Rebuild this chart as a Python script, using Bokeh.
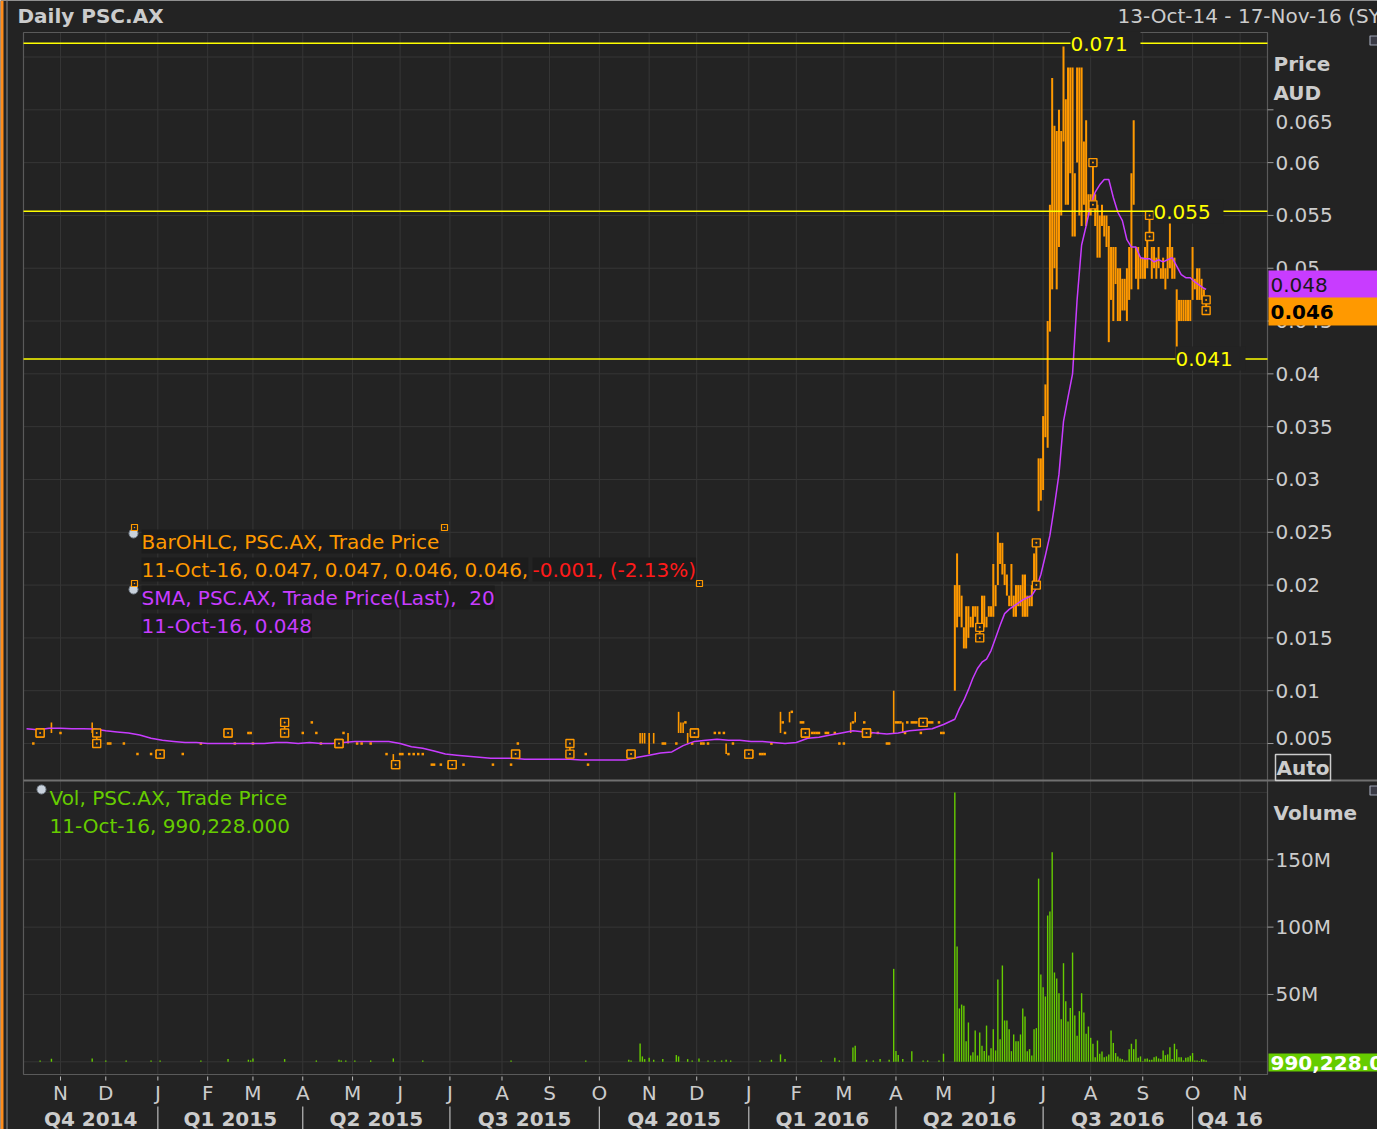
import numpy as np
from bokeh.plotting import figure
from bokeh.models import Range1d, Label
from bokeh.core.properties import value
from bokeh.embed import file_html
from bokeh.resources import INLINE

# ---------------------------------------------------------------- data
START = "2014-10-13"
END = "2016-11-17"

month_starts = ["2014-11", "2014-12", "2015-01", "2015-02", "2015-03", "2015-04", "2015-05",
                "2015-06", "2015-07", "2015-08", "2015-09", "2015-10", "2015-11", "2015-12",
                "2016-01", "2016-02", "2016-03", "2016-04", "2016-05", "2016-06", "2016-07",
                "2016-08", "2016-09", "2016-10", "2016-11"]
month_labels = ["N", "D", "J", "F", "M", "A", "M", "J", "J", "A", "S", "O", "N", "D",
                "J", "F", "M", "A", "M", "J", "J", "A", "S", "O", "N"]
quarter_starts = ["2015-01", "2015-04", "2015-07", "2015-10", "2016-01", "2016-04", "2016-07", "2016-10"]
quarter_labels = ["Q4 2014", "Q1 2015", "Q2 2015", "Q3 2015", "Q4 2015", "Q1 2016", "Q2 2016",
                  "Q3 2016", "Q4 16"]

price_ticks = [0.005, 0.01, 0.015, 0.02, 0.025, 0.03, 0.035, 0.04, 0.045, 0.05, 0.055, 0.06, 0.065]
price_tick_labels = ["0.005", "0.01", "0.015", "0.02", "0.025", "0.03", "0.035", "0.04", "0.045",
                     "0.05", "0.055", "0.06", "0.065"]
price_grid = price_ticks + [0.07]
vol_ticks = [50e6, 100e6, 150e6]
vol_tick_labels = ["50M", "100M", "150M"]
vol_grid = [0, 50e6, 100e6, 150e6, 200e6]

# quiet period (session number since 13-Oct-14, high, low)
early_bar = [3, 6, 11, 15, 29, 31, 36, 37, 43, 49, 55, 59, 69, 77, 89, 92, 98, 99, 100, 114, 122, 126,
             128, 130, 138, 140, 142, 146, 148, 152, 159, 162, 163, 165, 166, 169, 171, 173, 175, 179,
             180, 183, 188, 193, 206, 214, 216, 217, 240, 247, 248, 267, 271, 272, 273, 275, 277, 281,
             282, 287, 288, 289, 290, 291, 292, 294, 295, 298, 299, 301, 304, 306, 308, 309, 310, 312,
             319, 324, 325, 326, 329, 333, 334, 335, 337, 338, 342, 343, 344, 347, 348, 349, 350, 353,
             354, 357, 359, 361, 364, 365, 366, 370, 371, 373, 376, 380, 381, 383, 384, 385, 386, 387,
             388, 389, 391, 392, 393, 395, 396, 398, 399, 400, 403, 404, 405]
early_high = [.005, .006, .007, .006, .007, .006, .005, .005, .005, .004, .004, .004, .004, .005, .006,
              .005, .006, .006, .005, .007, .006, .007, .006, .005, .005, .006, .006, .005, .005, .005,
              .004, .004, .003, .004, .004, .004, .004, .004, .004, .003, .003, .003, .003, .003, .003,
              .003, .004, .005, .005, .004, .003, .004, .006, .006, .006, .006, .006, .005, .005, .005,
              .008, .007, .007, .007, .006, .005, .006, .005, .005, .005, .006, .006, .006, .005, .004,
              .005, .004, .004, .004, .004, .005, .008, .007, .006, .008, .008, .007, .007, .006, .006,
              .006, .006, .006, .006, .006, .006, .005, .005, .007, .007, .008, .007, .006, .006, .006,
              .005, .005, .010, .007, .007, .007, .007, .006, .007, .007, .007, .007, .006, .007, .007,
              .007, .007, .007, .006, .006]
early_low = [.005, .006, .006, .006, .006, .005, .005, .005, .005, .004, .004, .004, .004, .005, .006,
             .005, .006, .006, .005, .006, .006, .007, .006, .005, .005, .006, .005, .005, .005, .005,
             .004, .003, .003, .004, .004, .004, .004, .004, .004, .003, .003, .003, .003, .003, .003,
             .003, .004, .005, .004, .004, .003, .004, .005, .005, .005, .004, .005, .005, .005, .005,
             .006, .006, .006, .007, .005, .005, .006, .005, .005, .005, .006, .006, .006, .004, .004,
             .005, .004, .004, .004, .004, .005, .006, .007, .006, .007, .008, .007, .007, .006, .006,
             .006, .006, .006, .006, .006, .006, .005, .005, .006, .007, .007, .007, .006, .006, .006,
             .005, .005, .006, .007, .007, .007, .006, .006, .007, .007, .007, .007, .006, .007, .007,
             .007, .007, .007, .006, .006]

# active period: consecutive sessions from 9-May-16 to 11-Oct-16
active_first = "2016-05-09"
active_high = [.020, .023, .020, .019, .016, .018, .018, .017, .018, .018, .018, .016, .019, .019, .017,
               .018, .018, .022, .020, .025, .024, .024, .022, .021, .019, .022, .019, .020, .020, .020,
               .021, .021, .019, .019, .020, .023, .024, .032, .032, .036, .039, .045, .056, .068, .0635,
               .063, .065, .063, .071, .066, .069, .069, .069, .059, .069, .069, .069, .062, .064, .057,
               .057, .060, .057, .056, .055, .056, .055, .055, .054, .052, .052, .052, .050, .050, .049,
               .049, .050, .052, .059, .064, .052, .052, .051, .051, .052, .053, .055, .052, .052, .051,
               .052, .050, .051, .050, .052, .055, .052, .051, .048, .047, .047, .047, .047, .047, .047,
               .052, .049, .050, .050, .049, .048, .047]
active_low = [.010, .016, .017, .016, .014, .014, .015, .016, .016, .017, .016, .015, .016, .016, .016,
              .017, .017, .017, .018, .020, .022, .021, .020, .019, .018, .018, .017, .017, .018, .018,
              .017, .017, .017, .018, .018, .020, .020, .027, .028, .029, .034, .033, .044, .048, .050,
              .048, .052, .055, .062, .056, .056, .059, .053, .053, .060, .055, .054, .056, .054, .055,
              .055, .056, .054, .051, .051, .054, .053, .052, .043, .047, .045, .0485, .045, .045, .046,
              .046, .045, .047, .048, .056, .049, .048, .049, .049, .049, .050, .053, .049, .050, .049,
              .050, .049, .049, .048, .049, .050, .049, .049, .0415, .045, .045, .045, .045, .045, .045,
              .047, .048, .047, .047, .047, .047, .046]

# selected-series handles (open / close)
handle_bar = [6, 31, 59, 89, 114, 138, 163, 188, 216, 240, 267, 295, 319, 344, 371, 396, 421, 446, 471, 496, 521]
handle_open = [.006, .006, .004, .006, .007, .005, .003, .003, .004, .005, .004, .006, .004, .006, .006,
               .007, .016, .024, .060, .055, .047]
handle_close = [.006, .005, .004, .006, .006, .005, .003, .003, .004, .004, .004, .006, .004, .006, .006,
                .007, .015, .020, .056, .053, .046]

# 20-period SMA (every 5 sessions, then every 2 in the active period)
sma_early = [.0064, .0063, .00645, .00645, .0064, .0064, .00637, .0062, .0061, .0060,
             .0058, .0055, .0053, .0052, .0051, .0051, .0050, .0050, .0050, .0050,
             .0050, .0050, .0051, .0051, .0050, .0051, .0050, .0050, .0051, .0052,
             .0052, .0052, .0052, .0050, .0047, .00455, .0043, .0040, .0039, .0038,
             .0037, .0036, .0036, .0036, .0035, .0035, .0035, .0035, .0035, .00345,
             .00345, .00345, .00345, .00345, .0037, .0039, .0041, .0042, .0048, .0052,
             .0053, .0054, .0053, .0053, .0052, .0052, .0051, .0050, .0051, .0055,
             .0056, .0058, .0060, .0062, .0061, .0060, .0059, .0060, .0062, .0063,
             .0064, .0068]
sma_late = [.0073, .0083, .0091, .0101, .0112, .0121, .0127, .0130, .0138, .0150, .0162, .0173, .0177,
            .0180, .0183, .0186, .0188, .0190, .0197, .0210, .0228, .0247, .0275, .0305, .0355, .0378,
            .0400, .0470, .0522, .0540, .0560, .0572, .0579, .0584, .0584, .0567, .0553, .0545, .0527,
            .0520, .0520, .0510, .0509, .0509, .0506, .0508, .0506, .0508, .0510, .0502, .0494, .0491,
            .0491, .0487, .0484, .0481]
sma_last = .0480

# volume (millions of shares)
early_vol_bar = [6, 11, 29, 35, 44, 55, 59, 77, 89, 98, 99, 100, 114, 128, 138, 139, 141, 145, 152, 162,
                 175, 214, 247, 266, 267, 271, 272, 273, 275, 277, 281, 287, 288, 292, 294, 297, 301, 304,
                 307, 309, 311, 324, 329, 333, 335, 351, 357, 359, 365, 366, 371, 374, 377, 381, 383, 384,
                 385, 387, 391, 396, 398, 403, 405]
early_vol = [1.0, 2.2, 2.5, 1.0, 1.0, 1.0, 1.0, 1.0, 2.0, 1.5, 1.0, 2.5, 2.0, 1.0, 1.5, 1.0, 1.0, 1.0,
             1.0, 2.5, 1.0, 1.0, 1.0, 1.5, 1.0, 13.6, 4.0, 2.0, 3.0, 1.5, 2.0, 5.0, 4.0, 2.0, 1.0, 2.5,
             1.0, 1.0, 1.0, 1.5, 1.0, 1.0, 1.5, 5.5, 2.0, 1.0, 3.0, 1.0, 10.6, 12.0, 1.5, 1.0, 2.0, 1.5,
             69.0, 8.0, 5.0, 2.0, 7.9, 1.0, 1.0, 1.0, 6.0]
active_vol = [200, 85.6, 39.6, 42.5, 41.6, 15.3, 29.2, 4.7, 7.1, 23.2, 4.7, 21.8, 12, 8, 26.9, 4.7, 10,
              24.2, 8.4, 61.1, 16.8, 71.5, 30.7, 30.7, 24.2, 7.9, 20.3, 15.3, 15.3, 20.3, 39.6, 33.6, 7.9,
              9.4, 4.7, 24.2, 25, 136, 64.8, 55.4, 48.5, 108.6, 111.6, 155.6, 66.3, 61.8, 50.9, 31.6, 73.2,
              45, 30, 40, 81.1, 34.4, 19.3, 37.6, 50.9, 36.6, 20.8, 26.2, 17.8, 13.4, 3.4, 15.8, 5.9, 7.7,
              3.4, 4.0, 5.5, 23.2, 14, 6.5, 4.0, 2.5, 2.0, 1.0, 1.0, 9.4, 13.4, 9.4, 16.8, 3.0, 4.0, 0.5,
              2.3, 2.5, 1.5, 1.5, 3.4, 4.0, 2.5, 2.0, 8.4, 4.9, 5.5, 10.8, 2.0, 13.4, 9.4, 3.4, 3.4, 1.0,
              3.0, 3.4, 4.5, 6.5, 1.0, 1.0, 0.5, 2.0, 1.5, 0.990228]

levels = [0.0713, 0.0554, 0.0414]
last_ohlc = [0.047, 0.047, 0.046, 0.046]
last_change = -0.001
last_pct = -2.13
last_date = "11-Oct-16"
last_volume = 990228

# ---------------------------------------------------------------- scales
def bday(d):
    return int(np.busday_count(np.datetime64(START), np.datetime64(d)))

def first_bday(month):
    d = np.busday_offset(np.datetime64(month + "-01"), 0, roll="forward")
    return int(np.busday_count(np.datetime64(START), d))

m_ticks = [first_bday(m) for m in month_starts]
q_bounds = [first_bday(m) for m in quarter_starts]

x0 = bday(START) - 1.34
x1 = bday(END) + 0.1

# chart-area geometry in canvas pixels
W, H = 1377, 1129
FL, FR, FT, FB, SEP = 23, 1267, 32, 1074, 780
P_REF_Y, P_REF_V, P_SCALE = 109.3, 0.065, 10562.0
V0_Y, V_SCALE = 1061.3, 1.347e-6

def yp(ry):
    return P_REF_V - (ry - P_REF_Y) / P_SCALE

def vol_at(ry):
    return (V0_Y - ry) / V_SCALE

def xv(rx):
    return x0 + (rx - FL) * (x1 - x0) / (FR - FL)

BG = "#232323"
GRID = "#363636"
OUTLINE = "#5a5a5a"
TXT = "#cccccc"
ORANGE = "#ff9900"
PURPLE = "#c83cff"
GREEN = "#66cc00"
YELLOW = "#ffff00"
FONT = "DejaVu Sans"

p = figure(width=W, height=H, x_range=Range1d(xv(0), xv(W)), y_range=Range1d(yp(H), yp(0)),
           x_axis_type=None, y_axis_type=None, title=None, toolbar_location=None,
           output_backend="svg", min_border=0, background_fill_color=BG, border_fill_color=BG,
           outline_line_color=None)
p.extra_y_ranges = {"vol": Range1d(vol_at(H), vol_at(0))}

# window chrome
p.segment(x0=xv(1.5), y0=yp(0), x1=xv(1.5), y1=yp(H), line_color="#ff8c1a", line_width=3)
p.segment(x0=xv(6.5), y0=yp(0), x1=xv(6.5), y1=yp(H), line_color="#6a6a6a", line_width=1.5)
p.scatter(x=[xv(1374), xv(1374)], y=[yp(40), yp(790)], marker="square", size=9,
          line_color="#9aa0b0", fill_color="#3a3a44", line_width=1.2)

# grids
p.segment(x0=m_ticks, y0=yp(FT), x1=m_ticks, y1=yp(FB), line_color=GRID, line_width=1)
p.segment(x0=x0, y0=price_grid, x1=x1, y1=price_grid, line_color=GRID, line_width=1)
p.segment(x0=x0, y0=vol_grid, x1=x1, y1=vol_grid, y_range_name="vol", line_color=GRID, line_width=1)

# chart frame and panel separator
p.quad(left=x0, right=x1, top=yp(FT), bottom=yp(FB), fill_color=None, line_color=OUTLINE, line_width=1.2)
p.segment(x0=x0, y0=yp(SEP), x1=xv(W), y1=yp(SEP), line_color="#707070", line_width=2)

# ---------------------------------------------------------------- right axis
tick_x0, tick_x1, lab_x = x1, xv(FR + 6), xv(1275)
p.segment(x0=tick_x0, y0=price_ticks, x1=tick_x1, y1=price_ticks, line_color="#9a9a9a", line_width=1)
p.segment(x0=tick_x0, y0=vol_ticks, x1=tick_x1, y1=vol_ticks, y_range_name="vol",
          line_color="#9a9a9a", line_width=1)
mid = price_ticks[1:-1]
p.text(x=[lab_x] * len(mid), y=mid, text=price_tick_labels[1:-1], text_font=value(FONT),
       text_font_size="20px", text_color=TXT, text_baseline="middle", text_align="left")
p.text(x=[lab_x] * len(vol_ticks), y=vol_ticks, text=vol_tick_labels, y_range_name="vol",
       text_font=value(FONT), text_font_size="20px", text_color=TXT, text_baseline="middle",
       text_align="left")

# ---------------------------------------------------------------- bottom axis
p.segment(x0=m_ticks, y0=yp(FB + 2), x1=m_ticks, y1=yp(FB + 6), line_color="#bbbbbb", line_width=1)
p.text(x=m_ticks, y=[yp(1092)] * len(m_ticks), text=month_labels, text_font=value(FONT),
       text_font_size="20px", text_color=TXT, text_baseline="middle", text_align="center")
edges = [x0] + q_bounds + [x1]
q_centers = [(edges[i] + edges[i + 1]) / 2 for i in range(len(edges) - 1)]
p.segment(x0=q_bounds, y0=yp(1106), x1=q_bounds, y1=yp(H), line_color="#bbbbbb", line_width=1.2)
p.text(x=q_centers, y=[yp(1118)] * len(q_centers), text=quarter_labels, text_font=value(FONT),
       text_font_size="20px", text_font_style="bold", text_color=TXT, text_baseline="middle",
       text_align="center")

# ---------------------------------------------------------------- series
act_bar = [bday(active_first) + i for i in range(len(active_high))]
vol_x = early_vol_bar + act_bar
vol_y = [v * 1e6 for v in early_vol] + [v * 1e6 for v in active_vol[:-1]] + [last_volume]
p.segment(x0=vol_x, y0=0, x1=vol_x, y1=vol_y, y_range_name="vol", line_color=GREEN, line_width=1.4)

eb = [(b, h, l) for b, h, l in zip(early_bar, early_high, early_low) if h > l]
ed = [(b, h) for b, h, l in zip(early_bar, early_high, early_low) if h == l]
p.segment(x0=[e[0] for e in eb], y0=[e[2] for e in eb], x1=[e[0] for e in eb], y1=[e[1] for e in eb],
          line_color=ORANGE, line_width=1.6)
p.scatter(x=[e[0] for e in ed], y=[e[1] for e in ed], marker="square", size=2.5,
          fill_color=ORANGE, line_color=None)
p.segment(x0=act_bar, y0=active_low, x1=act_bar, y1=active_high, line_color=ORANGE, line_width=2)

sma_x = ([5 * i for i in range(len(sma_early))] +
         [act_bar[0] + 2 * i for i in range(len(sma_late))] + [act_bar[-1]])
sma_y = sma_early + sma_late + [sma_last]
p.line(sma_x, sma_y, line_color=PURPLE, line_width=1.5)

p.scatter(x=handle_bar + handle_bar, y=handle_open + handle_close, marker="square_dot", size=8,
          line_color=ORANGE, line_width=1.4, fill_color=BG)

p.segment(x0=x0, y0=levels, x1=x1, y1=levels, line_color=YELLOW, line_width=1.4)

# ---------------------------------------------------------------- texts
def lab(text, rx, ry, color=TXT, bold=False, **kw):
    p.add_layout(Label(x=xv(rx), y=yp(ry), text=text, text_font=FONT, text_font_size="20px",
                       text_color=color, text_font_style="bold" if bold else "normal",
                       text_baseline="middle", text_align="left", **kw))

lab("Daily PSC.AX", 17, 15, bold=True)
lab("13-Oct-14 - 17-Nov-16 (SYD)", 1117, 15)
lab("Price", 1273, 63, bold=True)
lab("AUD", 1273, 92, bold=True)
lab(price_tick_labels[-1], 1275, 121)
lab(price_tick_labels[0], 1275, 737)
lab("Auto", 1275, 767, bold=True, border_line_color=TXT, border_line_width=1.5, padding=1)
lab("Volume", 1273, 812, bold=True)

lab(" %.3f " % levels[0], 1070, 43, color=YELLOW, background_fill_color=BG)
lab(" %.3f " % levels[1], 1153, 211, color=YELLOW, background_fill_color=BG)
lab(" %.3f " % levels[2], 1175, 358, color=YELLOW, background_fill_color=BG)

# legend decorations (series handles / clock icons)
p.scatter(x=[xv(133), xv(133), xv(41)], y=[yp(533), yp(589), yp(789)], marker="circle", size=9,
          fill_color="#c9d2dc", line_color="#7a8490", line_width=1)
p.scatter(x=[xv(134), xv(444), xv(699), xv(134)], y=[yp(527), yp(527), yp(583), yp(583)],
          marker="square_dot", size=6, line_color=ORANGE, fill_color=BG, line_width=1.2)

LEG_BG = "#1c1c1c"
lab("BarOHLC, PSC.AX, Trade Price", 141, 541, color=ORANGE, background_fill_color=LEG_BG)
lab("%s, %s," % (last_date, ", ".join("%.3f" % v for v in last_ohlc)), 141, 569, color=ORANGE,
    background_fill_color=LEG_BG)
lab("%.3f, (%.2f%%)" % (last_change, last_pct), 532, 569, color="#ff1a1a", background_fill_color=LEG_BG)
lab("SMA, PSC.AX, Trade Price(Last), \u00a020", 141, 597, color=PURPLE, background_fill_color=LEG_BG)
lab("%s, %.3f" % (last_date, sma_last), 141, 625, color=PURPLE, background_fill_color=LEG_BG)
lab("Vol, PSC.AX, Trade Price", 49, 797, color=GREEN)
lab("%s, %s.000" % (last_date, format(last_volume, ",")), 49, 825, color=GREEN)

lab("%.3f            " % sma_last, 1268, 284, color="#1a1a1a", background_fill_color=PURPLE, padding=2)
lab("%.3f           " % last_ohlc[3], 1268, 311, color="#000000", bold=True,
    background_fill_color=ORANGE, padding=2)
lab("%s.000" % format(last_volume, ","), 1268, 1062, color="#ffffff", bold=True,
    background_fill_color=GREEN, padding=2)

open("out.html", "w").write(file_html(p, INLINE, title="Daily PSC.AX"))
